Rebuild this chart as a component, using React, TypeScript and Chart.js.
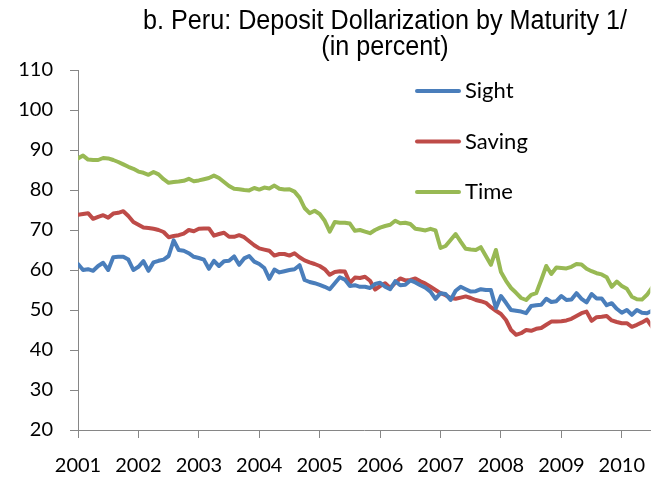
import React, { useEffect, useRef } from "react";
import { Chart, registerables } from "chart.js";

Chart.register(...registerables);

// Monthly observations, January 2001 onwards
const START_YEAR = 2001;
const LAST_VISIBLE_YEAR = 2010.472;
const yearTicks = [2001, 2002, 2003, 2004, 2005, 2006, 2007, 2008, 2009, 2010];

const sight = [
  61.5, 60.0, 60.2, 59.8, 61.0, 61.8, 60.0, 63.2, 63.3, 63.3, 62.6, 60.0,
  60.8, 62.2, 59.8, 61.9, 62.3, 62.6, 63.5, 67.4, 65.0, 64.8, 64.2, 63.3,
  63.0, 62.6, 60.3, 62.3, 61.0, 62.2, 62.3, 63.4, 61.3, 62.9, 63.5, 62.1,
  61.5, 60.5, 57.8, 60.1, 59.4, 59.7, 60.0, 60.2, 61.2, 57.5, 57.0, 56.7,
  56.3, 55.8, 55.2, 56.7, 58.2, 57.6, 56.0, 56.2, 55.8, 55.8, 55.5, 56.5,
  56.8, 55.8, 55.2, 57.2, 56.2, 56.3, 57.4, 56.9, 56.2, 55.6, 54.6, 52.8,
  54.2, 54.0, 52.5, 54.8, 55.8, 55.2, 54.6, 54.7, 55.2, 55.0, 55.0, 50.5,
  53.5, 51.8, 50.0, 49.8, 49.6, 49.2, 51.0, 51.2, 51.3, 52.8, 52.0, 52.2,
  53.5, 52.5, 52.6, 54.2, 52.8, 51.9, 54.0, 52.9, 52.9, 51.2, 51.7, 50.3,
  49.3, 50.0, 48.8, 50.0, 49.3, 49.2, 49.8,
];

const saving = [
  73.8, 74.0, 74.2, 72.8, 73.3, 73.7, 73.1, 74.1, 74.3, 74.7, 73.5, 72.0,
  71.3, 70.6, 70.5, 70.3, 70.0, 69.5, 68.2, 68.5, 68.7, 69.1, 70.0, 69.7,
  70.3, 70.4, 70.4, 68.6, 69.0, 69.3, 68.3, 68.3, 68.7, 68.2, 67.2, 66.2,
  65.4, 65.1, 64.8, 63.6, 64.0, 64.0, 63.6, 64.2, 63.2, 62.4, 61.9, 61.5,
  61.0, 60.2, 58.8, 59.5, 59.7, 59.6, 56.8, 58.1, 58.0, 58.3, 57.3, 55.1,
  56.0, 56.7, 55.5, 56.8, 57.9, 57.4, 57.5, 57.9, 57.2, 56.6, 55.8, 55.0,
  54.2, 53.7, 53.0, 52.8, 53.1, 53.4, 53.0, 52.5, 52.2, 51.8, 50.7, 49.8,
  49.0, 47.5, 45.0, 43.8, 44.2, 45.0, 44.8, 45.3, 45.5, 46.3, 47.1, 47.1,
  47.2, 47.4, 47.8, 48.5, 49.2, 49.6, 47.3, 48.2, 48.3, 48.5, 47.4, 47.0,
  46.7, 46.7, 45.8, 46.3, 46.9, 47.6, 45.8,
];

const time = [
  87.9, 88.6, 87.6, 87.5, 87.5, 88.0, 87.9, 87.5, 87.0, 86.4, 85.8, 85.3,
  84.6, 84.3, 83.8, 84.5, 83.9, 82.7, 81.8, 82.0, 82.1, 82.3, 82.8, 82.2,
  82.4, 82.7, 83.0, 83.6, 83.0, 82.0, 81.0, 80.3, 80.2, 80.0, 79.9, 80.5,
  80.1, 80.6, 80.4, 81.1, 80.3, 80.1, 80.2, 79.6, 78.1, 75.5, 74.2, 74.8,
  74.0, 72.3, 69.6, 72.0, 71.8, 71.8, 71.6, 69.8, 70.0, 69.6, 69.2, 70.0,
  70.6, 71.0, 71.3, 72.3, 71.7, 71.8, 71.5, 70.3, 70.1, 69.9, 70.3, 69.9,
  65.5, 66.0, 67.5, 69.0, 67.1, 65.3, 65.1, 65.0, 65.7, 63.5, 61.3, 65.0,
  59.5, 57.3, 55.5, 54.3, 53.0, 52.5, 53.8, 54.2, 57.5, 61.0, 59.0, 60.6,
  60.5, 60.4, 60.8, 61.5, 61.4, 60.3, 59.7, 59.2, 58.9, 58.2, 55.8, 57.1,
  56.0, 55.3, 53.3, 52.7, 52.6, 53.8, 55.6,
];

const seriesNames = ["Sight", "Saving", "Time"];
const seriesColors = ["#4A7EBB", "#BE4B48", "#98B954"];
const seriesValues = [sight, saving, time];
const titleLines = ["b. Peru: Deposit Dollarization by Maturity 1/", "(in percent)"];

const FONT = "Lato, Carlito, 'Noto Sans', sans-serif";
const TITLE_FONT = "'Liberation Sans Narrow', 'Arial Narrow', 'Liberation Sans', Arial, sans-serif";
const AXIS_COLOR = "#868686";

const toPoints = (arr: number[]) =>
  arr.map((v, i) => ({ x: START_YEAR + i / 12, y: v }));

const overlayPlugin = {
  id: "overlay",
  afterDraw(chart: any) {
    const ctx = chart.ctx;
    const area = chart.chartArea;
    ctx.save();
    // title (narrow sans, condensed to the reference width)
    ctx.fillStyle = "#000";
    ctx.textAlign = "center";
    ctx.textBaseline = "middle";
    ctx.font = `27px ${TITLE_FONT}`;
    const w = ctx.measureText(titleLines[0]).width;
    const sx = Math.min(1, 484 / w);
    ctx.save();
    ctx.translate(385, 0);
    ctx.scale(sx, 1);
    ctx.fillText(titleLines[0], 0, 22);
    ctx.fillText(titleLines[1], 0, 48);
    ctx.restore();
    // legend
    ctx.font = `22px ${FONT}`;
    ctx.textAlign = "left";
    seriesNames.forEach((name, k) => {
      const y = area.top + 21 + k * 50.5;
      const x0 = area.left + 339;
      ctx.strokeStyle = seriesColors[k];
      ctx.lineWidth = 4;
      ctx.lineCap = "round";
      ctx.beginPath();
      ctx.moveTo(x0, y);
      ctx.lineTo(x0 + 42, y);
      ctx.stroke();
      ctx.fillStyle = "#000";
      ctx.fillText(name, x0 + 48, y);
    });
    ctx.restore();
  },
};

export default function App() {
  const canvasRef = useRef<HTMLCanvasElement | null>(null);

  useEffect(() => {
    document.body.style.margin = "0";
    document.body.style.overflow = "hidden";
    const canvas = canvasRef.current;
    if (!canvas) return;
    const chart = new Chart(canvas, {
      type: "line",
      data: {
        datasets: seriesNames.map((name, k) => ({
          label: name,
          data: toPoints(seriesValues[k]),
          borderColor: seriesColors[k],
          backgroundColor: seriesColors[k],
          borderWidth: 4,
          pointRadius: 0,
          tension: 0,
          borderJoinStyle: "round" as const,
          borderCapStyle: "round" as const,
          fill: false,
        })),
      },
      options: {
        animation: false,
        responsive: false,
        devicePixelRatio: 1,
        layout: { padding: { top: 70, right: 0, left: 0, bottom: 0 } },
        plugins: {
          legend: { display: false },
          title: { display: false },
          tooltip: { enabled: false },
        },
        scales: {
          x: {
            type: "linear",
            min: yearTicks[0],
            max: LAST_VISIBLE_YEAR,
            afterBuildTicks: (scale: any) => {
              scale.ticks = yearTicks.map((v) => ({ value: v }));
            },
            ticks: {
              autoSkip: false,
              maxRotation: 0,
              minRotation: 0,
              includeBounds: false,
              padding: 16,
              color: "#000",
              font: { family: FONT, size: 20 },
              callback: (v: any) => String(v),
            },
            grid: {
              drawOnChartArea: false,
              drawTicks: true,
              tickLength: 8,
              color: AXIS_COLOR,
            },
            border: { color: AXIS_COLOR, width: 1 },
            afterFit: (scale: any) => {
              scale.height = 47;
            },
          },
          y: {
            min: 20,
            max: 110,
            ticks: {
              stepSize: 10,
              padding: 17,
              color: "#000",
              font: { family: FONT, size: 20 },
            },
            grid: {
              drawOnChartArea: false,
              drawTicks: true,
              tickLength: 8,
              color: AXIS_COLOR,
            },
            border: { color: AXIS_COLOR, width: 1 },
            afterFit: (scale: any) => {
              scale.width = 78;
            },
          },
        },
      },
      plugins: [overlayPlugin],
    } as any);
    return () => chart.destroy();
  }, []);

  return (
    <div style={{ width: 661, height: 477, overflow: "hidden" }}>
      <canvas ref={canvasRef} width={661} height={477} />
    </div>
  );
}
